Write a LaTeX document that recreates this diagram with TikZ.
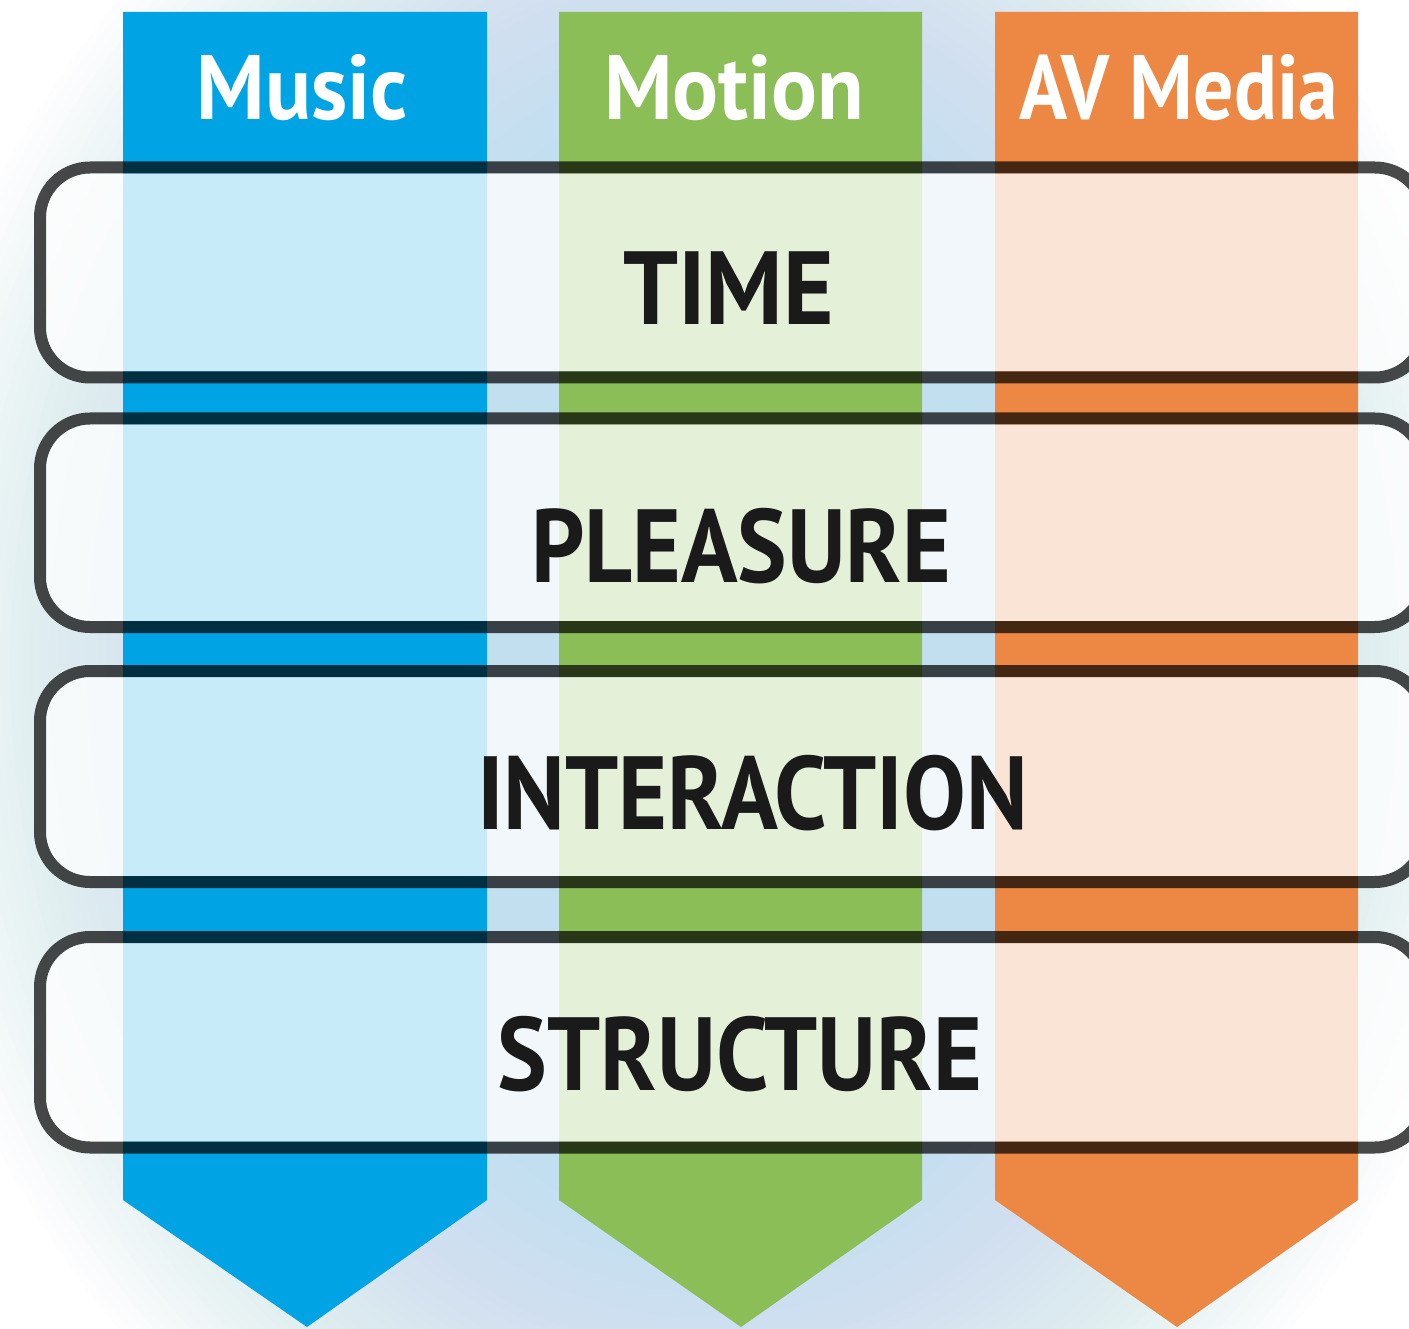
\documentclass[tikz,border=0pt]{standalone}
\usepackage{fontspec}
\setmainfont{PT Sans}
\usepackage{graphicx}
\definecolor{mblue}{RGB}{0,164,228}
\definecolor{mgreen}{RGB}{139,190,86}
\definecolor{morange}{RGB}{236,136,68}
\definecolor{glow}{RGB}{194,223,240}
\definecolor{inkdark}{RGB}{26,26,26}
\tikzset{
  colshape/.style={fill=#1},
  glowlayer/.style={fill=glow, fill opacity=0.03},
  bandfill/.style={fill=white, fill opacity=0.78, rounded corners=44pt},
  bandline/.style={draw=black, draw opacity=0.71, line width=12pt, rounded corners=50pt},
  hdr/.style={anchor=base, inner sep=0pt, text=white, font=\bfseries\fontsize{91.5}{100}\selectfont},
  bandtext/.style={anchor=base, inner sep=0pt, text=inkdark, font=\bfseries\fontsize{104}{110}\selectfont}
}
\begin{document}
\begin{tikzpicture}[x=1pt,y=-1pt]
\useasboundingbox (0,0) rectangle (1409,1329);
\begin{scope}
\clip (0,0) rectangle (1409,1329);
\fill[white] (0,0) rectangle (1409,1329);
% background glow: stacked soft ellipses
\foreach \i in {0,...,59}{
  \pgfmathsetmacro{\ra}{820-(\i/59)*570}
  \pgfmathsetmacro{\rb}{950-(\i/59)*500}
  \fill[glowlayer] (704.5,664.5) ellipse [x radius=\ra, y radius=\rb];
}
% columns with arrow tips
\fill[colshape=mblue]   (123,12) -- (487,12) -- (487,1200) -- (307,1327) -- (123,1200) -- cycle;
\fill[colshape=mgreen]  (559,12) -- (922,12) -- (922,1200) -- (741,1327) -- (559,1200) -- cycle;
\fill[colshape=morange] (995,12) -- (1358,12) -- (1358,1200) -- (1177,1327) -- (995,1200) -- cycle;
% bands
\fill[bandfill] (46,173.5) rectangle (1419,371.5);
\draw[bandline] (40,167.5) rectangle (1425,377.5);
\fill[bandfill] (46,424.5) rectangle (1419,621);
\draw[bandline] (40,418.5) rectangle (1425,627);
\fill[bandfill] (46,677) rectangle (1419,876);
\draw[bandline] (40,671) rectangle (1425,882);
\fill[bandfill] (46,943) rectangle (1419,1141.5);
\draw[bandline] (40,937) rectangle (1425,1147.5);
\end{scope}
% headers
\node[hdr] (music)  at (302.5,120) {\resizebox{211pt}{\height}{Music}};
\node[hdr] (motion) at (734,120)   {\resizebox{260pt}{\height}{Motion}};
\node[hdr] (avmedia) at (1178.5,120) {\resizebox{319pt}{\height}{AV Media}};
% band labels
\node[bandtext] (time)        at (728.5,325) {\resizebox{211pt}{\height}{TIME}};
\node[bandtext] (pleasure)    at (741,582)   {\resizebox{420pt}{\height}{PLEASURE}};
\node[bandtext] (interaction) at (752.5,829) {\resizebox{551pt}{\height}{INTERACTION}};
\node[bandtext] (structure)   at (740,1090)  {\resizebox{484pt}{\height}{STRUCTURE}};
\end{tikzpicture}
\end{document}
